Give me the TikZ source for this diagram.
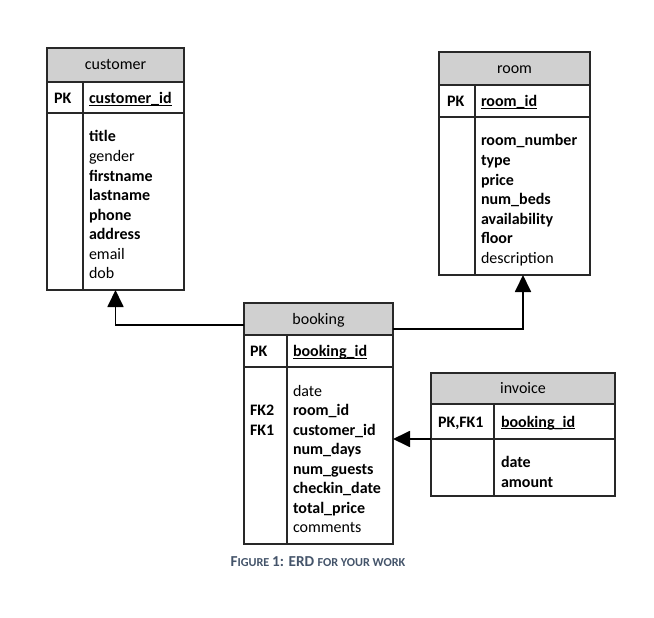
\documentclass[tikz,border=0pt]{standalone}
\usepackage{fontspec}
\setmainfont{Carlito}
\usetikzlibrary{arrows.meta}
\definecolor{hdrgray}{RGB}{208,208,208}
\definecolor{capblue}{RGB}{68,84,106}
\definecolor{framecol}{RGB}{40,40,40}
\newcommand\ulfield[1]{\setbox0\hbox{#1}\rlap{\rule[-2pt]{\wd0}{0.9pt}}\box0}
\begin{document}
\begin{tikzpicture}[x=1pt,y=-1pt,
  cell/.style={draw=framecol, line width=1.1pt, inner sep=0pt, outer sep=0pt, anchor=north west},
  hdr/.style={cell, fill=hdrgray, text height=13pt, text depth=3pt, font=\fontsize{16}{19.5}\selectfont},
  divline/.style={draw=framecol, line width=1.1pt},
  txt/.style={inner sep=0pt, outer sep=0pt, anchor=base west, font=\fontsize{16}{19.5}\selectfont},
  keyt/.style={txt, font=\fontsize{16}{19.5}\selectfont\bfseries},
  conn/.style={line width=1.8pt, -{Triangle[length=17pt,width=16pt]}}]
\useasboundingbox (0,0) rectangle (654,618);

% ---------- customer ----------
\node[hdr, minimum width=137, minimum height=34] (cu-h) at (47,48) {customer};
\node[cell, minimum width=137, minimum height=31] (cu-pk) at (47,82) {};
\node[cell, minimum width=137, minimum height=177] (cu-b) at (47,113) {};
\draw[divline] (83,82) -- (83,290);
\node[keyt] (cu-k) at (54,103.5) {PK};
\node[keyt] (cu-f) at (89,103.5) {\ulfield{customer\_id}};
\foreach \t [count=\i] in {\textbf{title},gender,\textbf{firstname},\textbf{lastname},\textbf{phone},\textbf{address},email,dob}
  \node[txt] (cu-l\i) at (89,{142+19.5*(\i-1)}) {\t};

% ---------- room ----------
\node[hdr, minimum width=151, minimum height=33] (rm-h) at (439,52) {room};
\node[cell, minimum width=151, minimum height=32] (rm-pk) at (439,85) {};
\node[cell, minimum width=151, minimum height=158] (rm-b) at (439,117) {};
\draw[divline] (475,85) -- (475,275);
\node[keyt] (rm-k) at (447,106.5) {PK};
\node[keyt] (rm-f) at (481,106.5) {\ulfield{room\_id}};
\foreach \t [count=\i] in {\textbf{room\_number},\textbf{type},\textbf{price},\textbf{num\_beds},\textbf{availability},\textbf{floor},description}
  \node[txt] (rm-l\i) at (481,{146+19.5*(\i-1)}) {\t};

% ---------- booking ----------
\node[hdr, minimum width=149, minimum height=32] (bk-h) at (244,303) {booking};
\node[cell, minimum width=149, minimum height=32] (bk-pk) at (244,335) {};
\node[cell, minimum width=149, minimum height=177] (bk-b) at (244,367) {};
\draw[divline] (287,335) -- (287,544);
\node[keyt] (bk-k) at (250,356.5) {PK};
\node[keyt] (bk-f) at (293,356.5) {\ulfield{booking\_id}};
\foreach \t [count=\i] in {date,\textbf{room\_id},\textbf{customer\_id},\textbf{num\_days},\textbf{num\_guests},\textbf{checkin\_date},\textbf{total\_price},comments}
  \node[txt] (bk-l\i) at (293,{396+19.5*(\i-1)}) {\t};
\node[keyt] (bk-fk2) at (250,415.5) {FK2};
\node[keyt] (bk-fk1) at (250,435) {FK1};

% ---------- invoice ----------
\node[hdr, minimum width=184, minimum height=31] (iv-h) at (431,373) {invoice};
\node[cell, minimum width=184, minimum height=35] (iv-pk) at (431,404) {};
\node[cell, minimum width=184, minimum height=57] (iv-b) at (431,439) {};
\draw[divline] (494,404) -- (494,496);
\node[keyt] (iv-k) at (438,427) {PK,FK1};
\node[keyt] (iv-f) at (501,427) {\ulfield{booking\_id}};
\node[txt] (iv-l1) at (501,467.5) {\textbf{date}};
\node[txt] (iv-l2) at (501,487) {\textbf{amount}};

% ---------- connectors ----------
\draw[conn] ([yshift=-6pt]bk-h.west) -| (cu-b.south);
\draw[conn] ([yshift=-10pt]bk-h.east) -| ([xshift=8.5pt]rm-b.south);
\draw[conn] (iv-b.north west) -- (iv-b.north west -| bk-b.east);

% ---------- caption ----------
\node[inner sep=0pt, anchor=base, text=capblue, font=\bfseries] (cap) at (318,566)
  {{\fontsize{15.2}{16}\selectfont F}{\fontsize{12.2}{16}\selectfont IGURE }{\fontsize{15.2}{16}\selectfont 1: ERD }{\fontsize{12.2}{16}\selectfont FOR YOUR WORK}};
\end{tikzpicture}
\end{document}
